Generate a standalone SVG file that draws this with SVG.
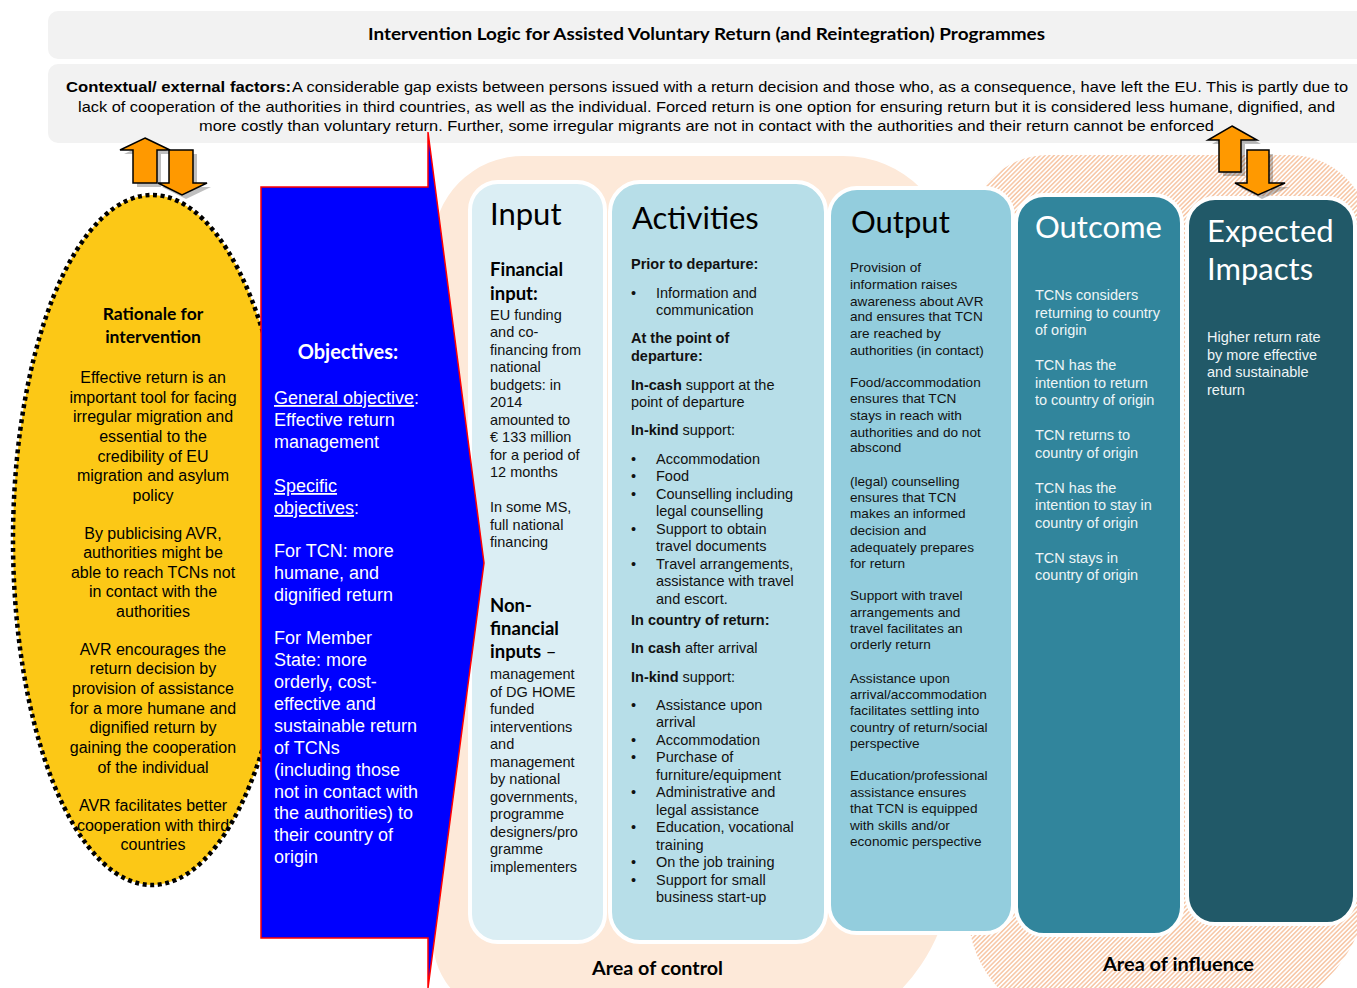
<svg xmlns="http://www.w3.org/2000/svg" width="1357" height="988" viewBox="0 0 1357 988">
<style>
.a{font-family:"Liberation Sans",Arial,sans-serif}
.c{font-family:Lato,"Noto Sans",sans-serif}
.bd{font-weight:bold}
.e{font-size:16px;fill:#000;text-anchor:middle}
.o{font-size:18px;fill:#fff}
.i{font-size:14.5px;fill:#111}
.p{font-size:13.6px;fill:#111}
.w{font-size:14.5px;fill:#eef5f7}
.t{font-size:31px}
.arr{fill:#ff9900;stroke:#000;stroke-width:1.5;stroke-linejoin:miter}
.sh{fill:#000;opacity:0.25}
.col{stroke:#fff;stroke-width:4}
</style>
<defs>
<pattern id="hatch" patternUnits="userSpaceOnUse" width="3.2" height="3.2" patternTransform="rotate(45)">
<rect width="3.2" height="3.2" fill="#fff"/>
<line x1="0.8" y1="0" x2="0.8" y2="3.2" stroke="#f6bd96" stroke-width="1.3"/>
</pattern>
</defs>

<g id="header">
<rect x="48" y="11" width="1330" height="48" rx="10" fill="#f2f2f2"/>
<text class="c bd" x="368" y="40" font-size="17" textLength="677" lengthAdjust="spacingAndGlyphs" fill="#000">Intervention Logic for Assisted Voluntary Return (and Reintegration) Programmes</text>
</g>

<g id="context">
<rect x="48" y="64" width="1330" height="79" rx="10" fill="#f2f2f2"/>
<text class="a bd" x="66" y="92" font-size="15" textLength="225" lengthAdjust="spacingAndGlyphs" fill="#000">Contextual/ external factors:</text>
<text class="a" x="292" y="92" font-size="15" textLength="1056" lengthAdjust="spacingAndGlyphs" fill="#000">A considerable gap exists between persons issued with  a return decision and those who, as a consequence, have left the EU. This is partly due to</text>
<text class="a" x="78" y="112" font-size="15" textLength="1257" lengthAdjust="spacingAndGlyphs" fill="#000">lack of cooperation of the authorities in third countries, as well as the individual. Forced return is one option for ensuring return but it is considered less humane, dignified, and</text>
<text class="a" x="199" y="131" font-size="15" textLength="1015" lengthAdjust="spacingAndGlyphs" fill="#000">more costly than voluntary return. Further, some irregular migrants are not in contact with the authorities and their return cannot be enforced</text>
</g>

<g id="area-control">
<path d="M433,246 A90,90 0 0 1 523,156 L843,156 A110,110 0 0 1 953,266 L953,860 A188,188 0 0 1 765,1048 L508,1015 A75,75 0 0 1 433,940 Z" fill="#fde9d9"/>
</g>
<g id="area-influence">
<path d="M968,235 A80,80 0 0 1 1048,155 L1290,155 A80,80 0 0 1 1370,235 L1370,874 A150,150 0 0 1 1220,1024 L1081,1024 A113,113 0 0 1 968,911 Z" fill="url(#hatch)"/>
</g>

<g id="rationale">
<ellipse cx="152" cy="540" rx="139" ry="345" fill="#fcc816" stroke="#000" stroke-width="4.5" stroke-dasharray="4 3.6"/>
<text class="c bd" x="153" y="320" font-size="17.5" text-anchor="middle" fill="#000">Rationale for</text>
<text class="c bd" x="153" y="343" font-size="17.5" text-anchor="middle" fill="#000">intervention</text>
<text class="a e" x="153" y="382.5">Effective return is an</text>
<text class="a e" x="153" y="402.5">important tool for facing</text>
<text class="a e" x="153" y="422">irregular migration and</text>
<text class="a e" x="153" y="441.5">essential to the</text>
<text class="a e" x="153" y="461.5">credibility of EU</text>
<text class="a e" x="153" y="481">migration and asylum</text>
<text class="a e" x="153" y="500.5">policy</text>
<text class="a e" x="153" y="538.5">By publicising AVR,</text>
<text class="a e" x="153" y="558">authorities might be</text>
<text class="a e" x="153" y="577.5">able to reach TCNs not</text>
<text class="a e" x="153" y="597">in contact with the</text>
<text class="a e" x="153" y="616.5">authorities</text>
<text class="a e" x="153" y="654.5">AVR encourages the</text>
<text class="a e" x="153" y="674">return decision by</text>
<text class="a e" x="153" y="694">provision of assistance</text>
<text class="a e" x="153" y="713.5">for a more humane and</text>
<text class="a e" x="153" y="733">dignified return by</text>
<text class="a e" x="153" y="753">gaining the cooperation</text>
<text class="a e" x="153" y="772.5">of the individual</text>
<text class="a e" x="153" y="811">AVR facilitates better</text>
<text class="a e" x="153" y="830.5">cooperation with third</text>
<text class="a e" x="153" y="850">countries</text>
</g>

<g id="input">
<rect class="col" x="470" y="182" width="135" height="760" rx="28" fill="#dbeef4"/>
<text class="c t" x="490" y="225" fill="#000">Input</text>
<text class="c bd" x="490" y="276" font-size="18.5" fill="#000">Financial</text>
<text class="c bd" x="490" y="300" font-size="18.5" fill="#000">input:</text>
<text class="a i" x="490" y="320">EU funding</text>
<text class="a i" x="490" y="337">and co-</text>
<text class="a i" x="490" y="355">financing from</text>
<text class="a i" x="490" y="372">national</text>
<text class="a i" x="490" y="390" textLength="71" lengthAdjust="spacing">budgets:  in</text>
<text class="a i" x="490" y="407">2014</text>
<text class="a i" x="490" y="425" textLength="80" lengthAdjust="spacing">amounted  to</text>
<text class="a i" x="490" y="442">€ 133 million</text>
<text class="a i" x="490" y="460">for a period of</text>
<text class="a i" x="490" y="477">12 months</text>
<text class="a i" x="490" y="512">In some MS,</text>
<text class="a i" x="490" y="530">full national</text>
<text class="a i" x="490" y="547">financing</text>
<text class="c bd" x="490" y="612" font-size="18.5" fill="#000">Non-</text>
<text class="c bd" x="490" y="635" font-size="18.5" fill="#000">financial</text>
<text class="c" x="490" y="658" font-size="18.5" fill="#000"><tspan font-weight="bold">inputs</tspan> –</text>
<text class="a i" x="490" y="679">management</text>
<text class="a i" x="490" y="697">of DG HOME</text>
<text class="a i" x="490" y="714">funded</text>
<text class="a i" x="490" y="732">interventions</text>
<text class="a i" x="490" y="749">and</text>
<text class="a i" x="490" y="767">management</text>
<text class="a i" x="490" y="784">by national</text>
<text class="a i" x="490" y="802">governments,</text>
<text class="a i" x="490" y="819">programme</text>
<text class="a i" x="490" y="837">designers/pro</text>
<text class="a i" x="490" y="854">gramme</text>
<text class="a i" x="490" y="872">implementers</text>
</g>

<g id="activities">
<rect class="col" x="610" y="182" width="216" height="760" rx="30" fill="#b7dee8"/>
<text class="c t" x="632" y="229" fill="#000">Activities</text>
<text class="a i bd" x="631" y="269">Prior to departure:</text>
<text class="a i" x="631" y="298">•</text><text class="a i" x="656" y="298">Information  and</text>
<text class="a i" x="656" y="315">communication</text>
<text class="a i bd" x="631" y="343">At the point of</text>
<text class="a i bd" x="631" y="361">departure:</text>
<text class="a i" x="631" y="390"><tspan font-weight="bold">In-cash</tspan> support at the</text>
<text class="a i" x="631" y="407">point of departure</text>
<text class="a i" x="631" y="435"><tspan font-weight="bold">In-kind</tspan> support:</text>
<text class="a i" x="631" y="464">•</text><text class="a i" x="656" y="464">Accommodation</text>
<text class="a i" x="631" y="481">•</text><text class="a i" x="656" y="481">Food</text>
<text class="a i" x="631" y="499">•</text><text class="a i" x="656" y="499">Counselling  including</text>
<text class="a i" x="656" y="516">legal counselling</text>
<text class="a i" x="631" y="534">•</text><text class="a i" x="656" y="534">Support to obtain</text>
<text class="a i" x="656" y="551">travel  documents</text>
<text class="a i" x="631" y="569">•</text><text class="a i" x="656" y="569">Travel  arrangements,</text>
<text class="a i" x="656" y="586">assistance with travel</text>
<text class="a i" x="656" y="604">and escort.</text>
<text class="a i bd" x="631" y="625">In country of return:</text>
<text class="a i" x="631" y="653"><tspan font-weight="bold">In cash</tspan> after arrival</text>
<text class="a i" x="631" y="682"><tspan font-weight="bold">In-kind</tspan> support:</text>
<text class="a i" x="631" y="710">•</text><text class="a i" x="656" y="710">Assistance  upon</text>
<text class="a i" x="656" y="727">arrival</text>
<text class="a i" x="631" y="745">•</text><text class="a i" x="656" y="745">Accommodation</text>
<text class="a i" x="631" y="762">•</text><text class="a i" x="656" y="762">Purchase of</text>
<text class="a i" x="656" y="780">furniture/equipment</text>
<text class="a i" x="631" y="797">•</text><text class="a i" x="656" y="797">Administrative  and</text>
<text class="a i" x="656" y="815">legal assistance</text>
<text class="a i" x="631" y="832">•</text><text class="a i" x="656" y="832">Education, vocational</text>
<text class="a i" x="656" y="850">training</text>
<text class="a i" x="631" y="867">•</text><text class="a i" x="656" y="867">On the job training</text>
<text class="a i" x="631" y="885">•</text><text class="a i" x="656" y="885">Support for small</text>
<text class="a i" x="656" y="902">business  start-up</text>
</g>

<g id="output">
<rect class="col" x="829" y="188" width="184" height="745" rx="28" fill="#93cddd"/>
<text class="c t" x="851" y="233" fill="#000">Output</text>
<text class="a p" x="850" y="272">Provision of</text>
<text class="a p" x="850" y="289">information raises</text>
<text class="a p" x="850" y="306">awareness about AVR</text>
<text class="a p" x="850" y="321">and ensures that TCN</text>
<text class="a p" x="850" y="338">are reached by</text>
<text class="a p" x="850" y="355">authorities (in contact)</text>
<text class="a p" x="850" y="387">Food/accommodation</text>
<text class="a p" x="850" y="403">ensures that TCN</text>
<text class="a p" x="850" y="420">stays in reach with</text>
<text class="a p" x="850" y="437">authorities and do not</text>
<text class="a p" x="850" y="452">abscond</text>
<text class="a p" x="850" y="486">(legal) counselling</text>
<text class="a p" x="850" y="502">ensures that TCN</text>
<text class="a p" x="850" y="518">makes an informed</text>
<text class="a p" x="850" y="535">decision and</text>
<text class="a p" x="850" y="552">adequately prepares</text>
<text class="a p" x="850" y="568">for return</text>
<text class="a p" x="850" y="600">Support with travel</text>
<text class="a p" x="850" y="617">arrangements and</text>
<text class="a p" x="850" y="633">travel facilitates an</text>
<text class="a p" x="850" y="649">orderly return</text>
<text class="a p" x="850" y="683">Assistance upon</text>
<text class="a p" x="850" y="699">arrival/accommodation</text>
<text class="a p" x="850" y="715">facilitates settling into</text>
<text class="a p" x="850" y="732">country  of return/social</text>
<text class="a p" x="850" y="748">perspective</text>
<text class="a p" x="850" y="780">Education/professional</text>
<text class="a p" x="850" y="797">assistance ensures</text>
<text class="a p" x="850" y="813">that TCN is equipped</text>
<text class="a p" x="850" y="830">with skills and/or</text>
<text class="a p" x="850" y="846">economic perspective</text>
</g>

<g id="outcome">
<rect class="col" x="1016" y="195" width="166" height="740" rx="28" fill="#31859c"/>
<text class="c t" x="1035" y="238" fill="#fff">Outcome</text>
<text class="a w" x="1035" y="300">TCNs  considers</text>
<text class="a w" x="1035" y="318">returning to country</text>
<text class="a w" x="1035" y="335">of origin</text>
<text class="a w" x="1035" y="370">TCN  has the</text>
<text class="a w" x="1035" y="388">intention  to return</text>
<text class="a w" x="1035" y="405">to country of origin</text>
<text class="a w" x="1035" y="440">TCN  returns to</text>
<text class="a w" x="1035" y="458">country of origin</text>
<text class="a w" x="1035" y="493">TCN  has the</text>
<text class="a w" x="1035" y="510">intention  to stay in</text>
<text class="a w" x="1035" y="528">country of origin</text>
<text class="a w" x="1035" y="563">TCN  stays in</text>
<text class="a w" x="1035" y="580">country of origin</text>
</g>

<g id="impacts">
<rect class="col" x="1187" y="198" width="168" height="726" rx="28" fill="#215968"/>
<text class="c t" x="1207" y="242" fill="#fff">Expected</text>
<text class="c t" x="1207" y="280" fill="#fff">Impacts</text>
<text class="a w" x="1207" y="342">Higher return rate</text>
<text class="a w" x="1207" y="360">by more effective</text>
<text class="a w" x="1207" y="377">and sustainable</text>
<text class="a w" x="1207" y="395">return</text>
</g>

<g id="objectives">
<path d="M261,187 L428,187 L428,132 L484,563 L428,988 L428,938 L261,938 Z" fill="#0000ff" stroke="#ff0000" stroke-width="1.5"/>
<text class="c bd" x="348" y="359" font-size="20" text-anchor="middle" fill="#fff">Objectives:</text>
<text class="a o" x="274" y="404"><tspan text-decoration="underline">General objective</tspan>:</text>
<text class="a o" x="274" y="426">Effective return</text>
<text class="a o" x="274" y="448">management</text>
<text class="a o" x="274" y="492"><tspan text-decoration="underline">Specific</tspan></text>
<text class="a o" x="274" y="514"><tspan text-decoration="underline">objectives</tspan>:</text>
<text class="a o" x="274" y="557">For TCN:  more</text>
<text class="a o" x="274" y="579">humane,  and</text>
<text class="a o" x="274" y="601">dignified return</text>
<text class="a o" x="274" y="644">For Member</text>
<text class="a o" x="274" y="666">State: more</text>
<text class="a o" x="274" y="688">orderly, cost-</text>
<text class="a o" x="274" y="710">effective and</text>
<text class="a o" x="274" y="732">sustainable return</text>
<text class="a o" x="274" y="754">of TCNs</text>
<text class="a o" x="274" y="776">(including  those</text>
<text class="a o" x="274" y="798">not in contact with</text>
<text class="a o" x="274" y="819">the authorities) to</text>
<text class="a o" x="274" y="841">their country of</text>
<text class="a o" x="274" y="863">origin</text>
</g>

<g id="area-labels">
<text class="c bd" x="592" y="975" font-size="19.5" textLength="131" lengthAdjust="spacingAndGlyphs" fill="#000">Area of control</text>
<text class="c bd" x="1103" y="971" font-size="19.5" textLength="151" lengthAdjust="spacingAndGlyphs" fill="#000">Area of influence</text>
</g>

<g id="connectors">
<path class="sh" transform="translate(4,4)" d="M145,138 L170,150 L157,150 L157,183 L133,183 L133,150 L120,150 Z"/>
<path class="arr" d="M145,138 L170,150 L157,150 L157,183 L133,183 L133,150 L120,150 Z"/>
<path class="sh" transform="translate(4,4)" d="M169,150 L193,150 L193,183 L207,183 L182,195 L158,183 L169,183 Z"/>
<path class="arr" d="M169,150 L193,150 L193,183 L207,183 L182,195 L158,183 L169,183 Z"/>
<path class="sh" transform="translate(4,4)" d="M1232,126 L1257,140 L1241,140 L1241,172 L1219,172 L1219,140 L1208,140 Z"/>
<path class="arr" d="M1232,126 L1257,140 L1241,140 L1241,172 L1219,172 L1219,140 L1208,140 Z"/>
<path class="sh" transform="translate(4,4)" d="M1247,150 L1269,150 L1269,183 L1285,183 L1258,195 L1235,183 L1247,183 Z"/>
<path class="arr" d="M1247,150 L1269,150 L1269,183 L1285,183 L1258,195 L1235,183 L1247,183 Z"/>
</g>
</svg>
